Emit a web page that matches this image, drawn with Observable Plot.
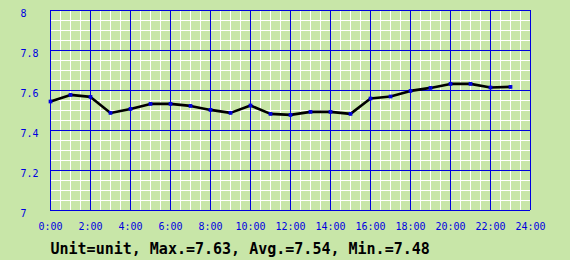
<!DOCTYPE html>
<html>
<head>
<meta charset="utf-8">
<script src="https://cdn.jsdelivr.net/npm/d3@7"></script>
<script src="https://cdn.jsdelivr.net/npm/@observablehq/plot@0.6"></script>
<style>
  html, body { margin: 0; padding: 0; background: #c8e6a8; }
  #chart svg { display: block; }
</style>
</head>
<body>
<div id="chart"></div>
<script>
const hours = [0,1,2,3,4,5,6,7,8,9,10,11,12,13,14,15,16,17,18,19,20,21,22,23];
const values = [7.545,7.578,7.568,7.488,7.508,7.533,7.533,7.523,7.503,7.488,7.525,7.483,
                7.478,7.493,7.493,7.483,7.560,7.570,7.598,7.613,7.633,7.633,7.615,7.618];
const xTicks = [0,2,4,6,8,10,12,14,16,18,20,22,24];
const xTickLabels = ["0:00","2:00","4:00","6:00","8:00","10:00","12:00","14:00","16:00","18:00","20:00","22:00","24:00"];
const yTicks = [7,7.2,7.4,7.6,7.8,8];
const yTickLabels = ["7","7.2","7.4","7.6","7.8","8"];
const caption = "Unit=unit, Max.=7.63, Avg.=7.54, Min.=7.48";

const blue = "#0000e0";
const data = hours.map((h, i) => ({h, v: values[i]}));

const chart = Plot.plot({
  width: 570,
  height: 260,
  marginLeft: 50,
  marginRight: 40,
  marginTop: 10,
  marginBottom: 50,
  style: {background: "#c8e6a8", fontFamily: "DejaVu Sans Mono", fontSize: "10px"},
  x: {domain: [0, 24], label: null},
  y: {domain: [7, 8], label: null},
  marks: [
    Plot.gridX({interval: 0.5, stroke: "white", strokeOpacity: 1, strokeWidth: 1}),
    Plot.gridY({interval: 0.05, stroke: "white", strokeOpacity: 1, strokeWidth: 1}),
    Plot.gridX({ticks: xTicks, stroke: blue, strokeOpacity: 1, strokeWidth: 1}),
    Plot.gridY({ticks: yTicks, stroke: blue, strokeOpacity: 1, strokeWidth: 1}),
    Plot.axisX({ticks: xTicks, tickFormat: d => xTickLabels[xTicks.indexOf(d)], tickSize: 0, tickPadding: 12, fill: blue, fontSize: 10, label: null}),
    Plot.axisY({ticks: yTicks, tickFormat: d => yTickLabels[yTicks.indexOf(d)], tickSize: 0, tickPadding: 30, textAnchor: "start", dy: 3, fill: blue, fontSize: 10, label: null}),
    Plot.line(data, {x: "h", y: "v", stroke: "black", strokeWidth: 2.6}),
    Plot.dot(data, {x: "h", y: "v", symbol: "square", r: 2.1, fill: blue, stroke: "none"}),
    Plot.text([caption], {frameAnchor: "bottom-left", textAnchor: "start", lineAnchor: "bottom", dy: 43, fontSize: 15, fontWeight: "bold", fill: "black"})
  ]
});
document.getElementById("chart").append(chart);
</script>
</body>
</html>
